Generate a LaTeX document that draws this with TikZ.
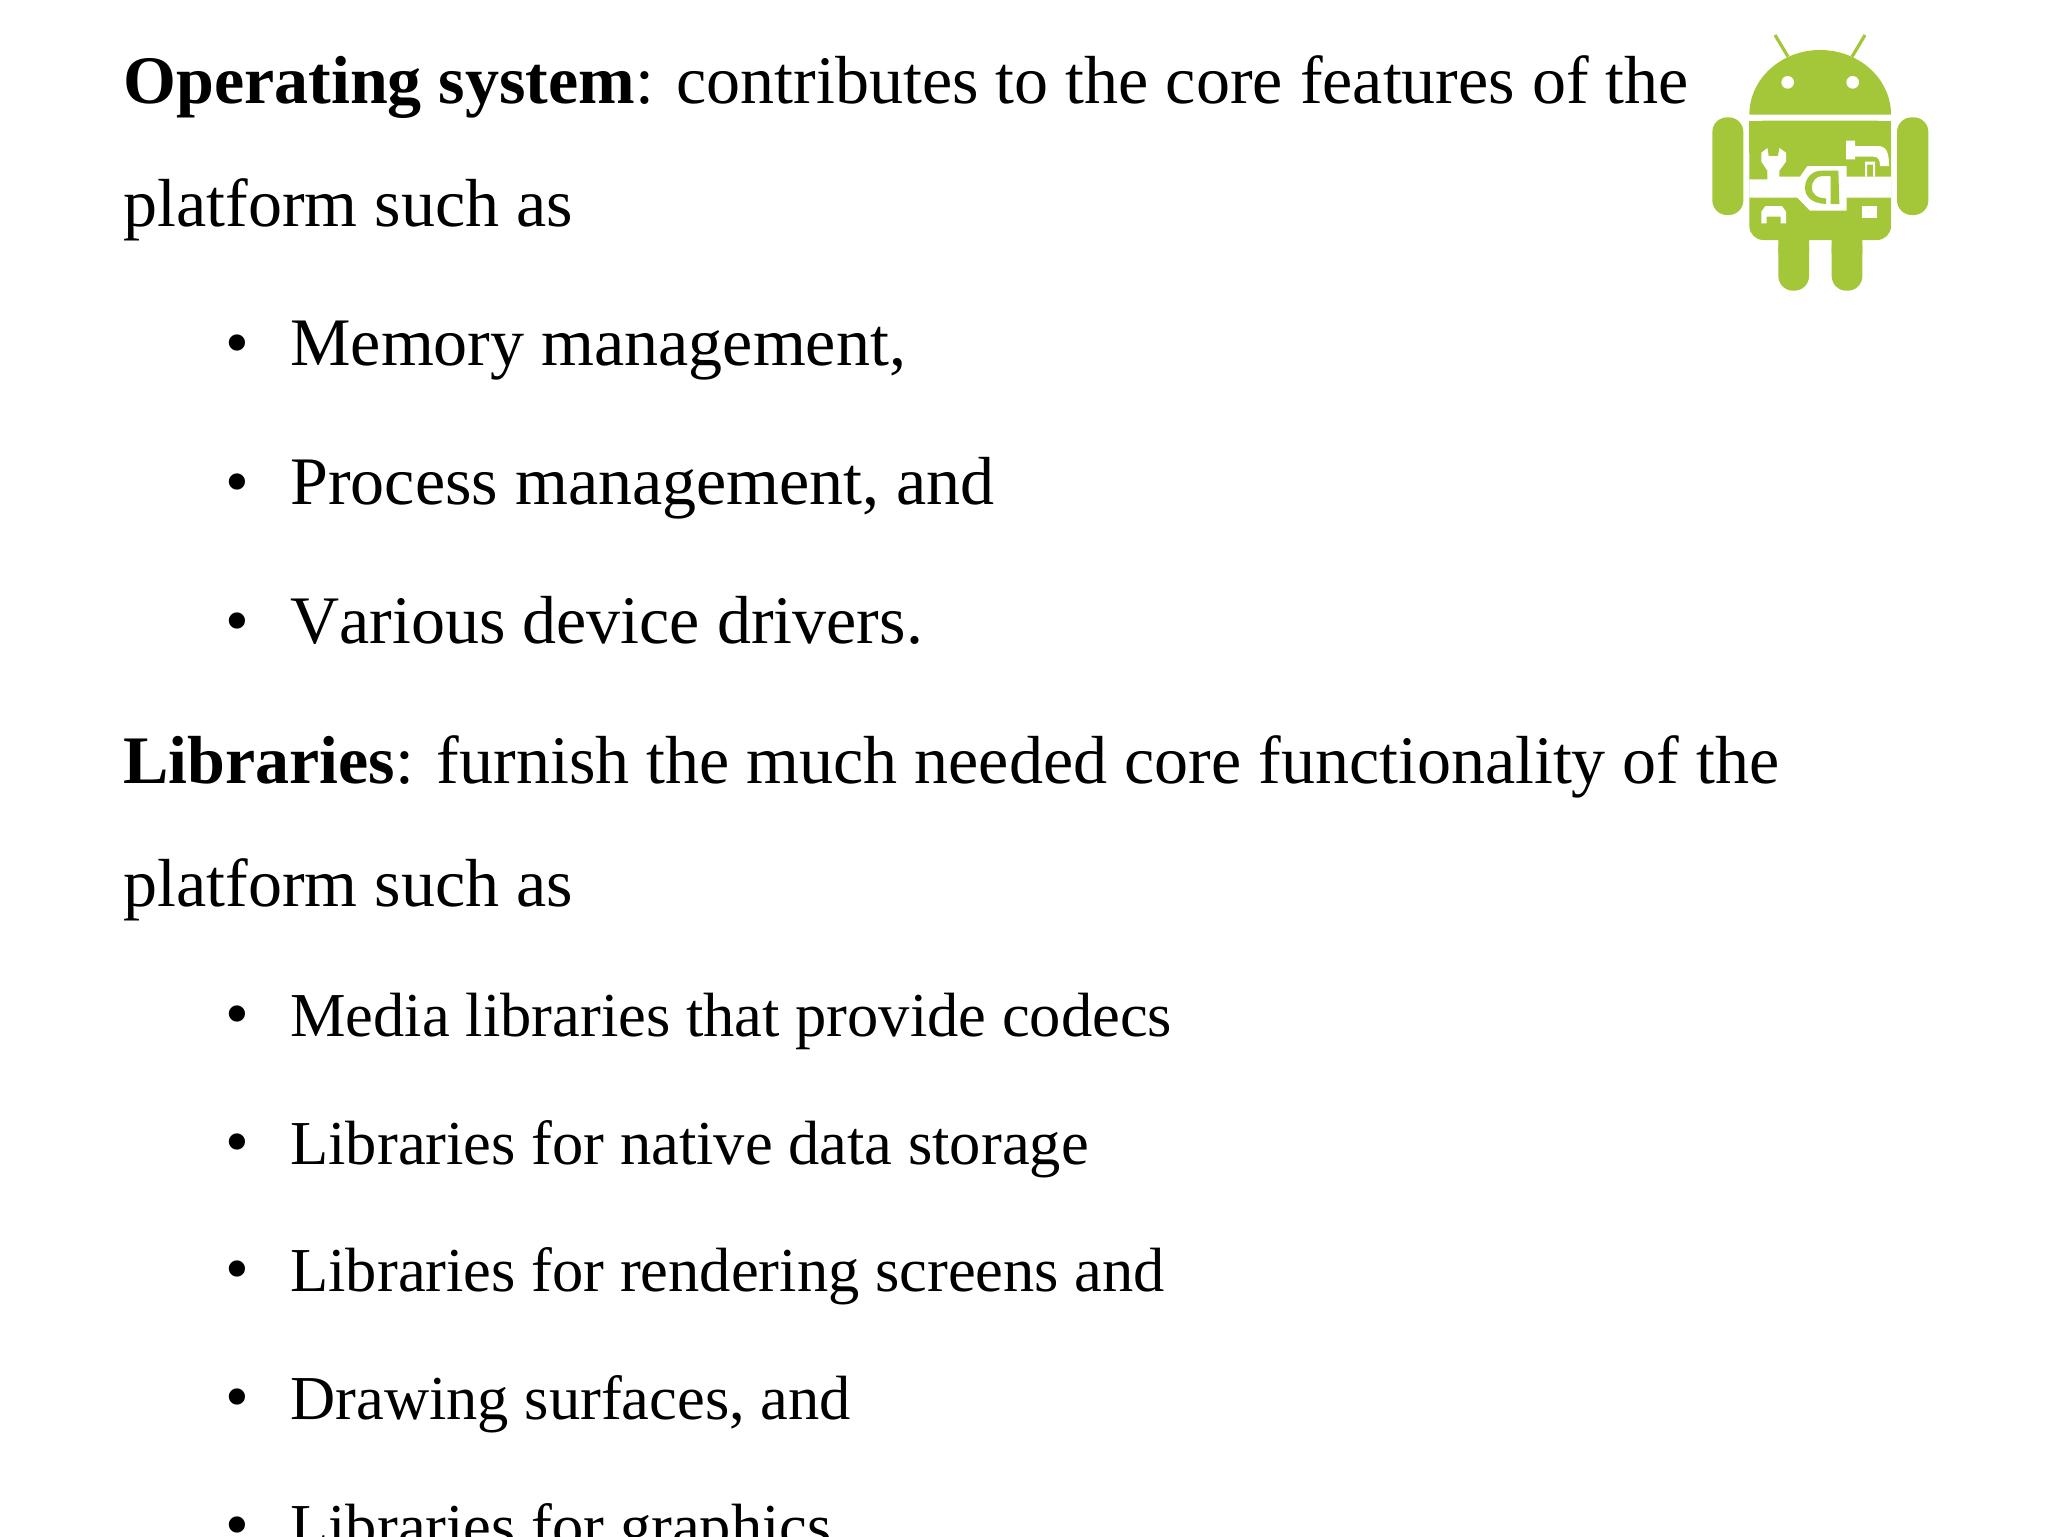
\documentclass[tikz,border=0pt]{standalone}
\usepackage{fontspec}
\setmainfont[Kerning=Off]{Liberation Serif}
\definecolor{droidgreen}{RGB}{164,198,57}
\tikzset{
	headline/.style={anchor=base west,inner sep=0pt,font=\fontsize{34}{34}\selectfont},
	libline/.style={anchor=base west,inner sep=0pt,font=\fontsize{31.25}{31.25}\selectfont},
	bulletmark/.style={anchor=base,inner sep=0pt,font=\fontsize{34}{34}\selectfont},
	cutout/.style={fill=white,draw=none},
	droid/.style={fill=droidgreen,draw=none},
}
\begin{document}
\begin{tikzpicture}[x=0.5pt,y=-0.5pt]
	\useasboundingbox (0,0) rectangle (2048,1536);

	% text
	\node[headline] (opsys) at (123,104) {\textbf{Operating system}: contributes to the core features of the};
	\node[headline] (opsysb) at (123,226) {platform such as};
	\node[headline] (memory) at (290,365) {Memory management,};
	\node[headline] (process) at (290,504) {Process management, and};
	\node[headline] (drivers) at (290,643) {Various device drivers.};
	\node[headline] (libs) at (123,783) {\textbf{Libraries}: furnish the much needed core functionality of the};
	\node[headline] (libsb) at (123,906) {platform such as};
	\node[libline] (media) at (290,1036) {Media libraries that provide codecs};
	\node[libline] (storage) at (290,1164) {Libraries for native data storage};
	\node[libline] (render) at (290,1291) {Libraries for rendering screens and};
	\node[libline] (surfaces) at (290,1419) {Drawing surfaces, and};
	\node[libline] (graphics) at (290,1547) {Libraries for graphics};

	% bullets
	\foreach \name/\ypos in {a/365,b/504,c/643,d/1036,e/1164,f/1291,g/1419,h/1547}
		\node[bulletmark] (bullet\name) at (237,\ypos) {•};

	% logo
	\begin{scope}[shift={(1690,20)},x=0.16667pt,y=-0.16667pt]
		\draw[droidgreen,line width=1.6pt] (255,45) -- (294,110) (525,45) -- (486,110);
		\fill[droid] (178,284) arc[start angle=180,end angle=360,x radius=212.5,y radius=194] -- cycle;
		\fill[cutout] (293,187) circle (19) (488,187) circle (19);
		\fill[droid,rounded corners=7pt] (178,302) -- (178,660) -- (603,660) -- (603,302) -- cycle;
		\fill[droid] (178,302) rectangle (603,400);
		\fill[droid,rounded corners=7.3pt] (67,292) rectangle (160,585);
		\fill[droid,rounded corners=7.3pt] (621,292) rectangle (715,585);
		\fill[droid,rounded corners=7.3pt] (265,640) rectangle (357,812);
		\fill[droid,rounded corners=7.3pt] (425,640) rectangle (517,812);
		\fill[droid] (265,640) rectangle (357,700) (425,640) rectangle (517,700);
		% tools
		\fill[cutout] (178,478) -- (232,478) -- (232,452) -- (214,425) -- (214,398) -- (232,384) -- (236,408) -- (264,408) -- (268,384) -- (288,398) -- (288,425) -- (268,452) -- (268,470) -- (330,470) -- (352,438) -- (470,438) -- (470,470) -- (603,470) -- (603,533) -- (470,533) -- (470,572) -- (360,572) -- (322,533) -- (178,533) -- cycle;
		\fill[cutout] (214,610) -- (214,575) -- (226,558) -- (276,558) -- (288,575) -- (288,610) -- (272,610) -- (272,590) -- (230,590) -- (230,610) -- cycle;
		\fill[cutout] (516,558) rectangle (560,595);
		\fill[cutout] (468,362) -- (495,362) -- (495,378) -- (570,378) .. controls (590,382) and (597,400) .. (597,438) -- (570,438) .. controls (570,420) and (565,410) .. (550,410) -- (495,410) -- (495,418) -- (468,418) -- cycle;
		\fill[cutout] (525,425) rectangle (555,434) (525,425) rectangle (531,470) (549,425) rectangle (555,470);
		\fill[droid] (445,452) -- (395,452) .. controls (365,452) and (345,475) .. (345,503) .. controls (345,530) and (365,550) .. (408,552) -- (408,535) .. controls (380,535) and (365,520) .. (365,503) .. controls (365,485) and (378,468) .. (397,468) -- (422,468) -- (422,552) -- (448,552) -- cycle;
	\end{scope}
\end{tikzpicture}
\end{document}
